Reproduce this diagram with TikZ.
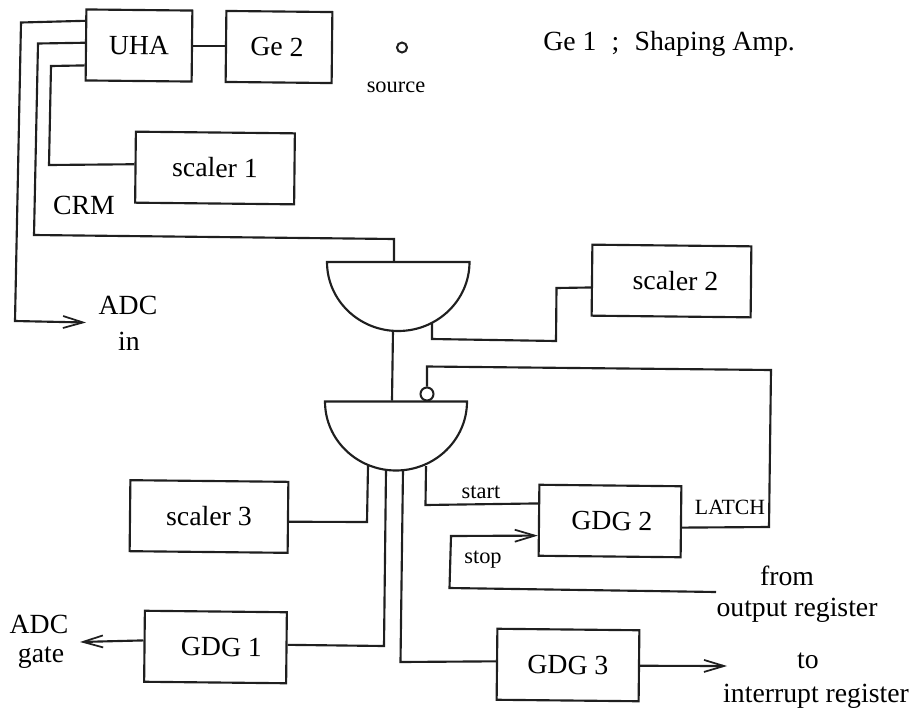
\documentclass[tikz,border=0pt]{standalone}
\usepackage{fontspec}
\setmainfont{Liberation Serif}
\usetikzlibrary{arrows.meta,calc}
\tikzset{
  wire/.style={line width=1.6pt,line join=miter,draw=black!88},
  arrowwire/.style={wire,-{Straight Barb[length=15pt,width=9pt,line width=1.3pt]}},
  unitbox/.style n args={2}{draw=black!88,line width=1.6pt,rotate=-0.6,inner sep=0pt,
    minimum width=#1*0.75pt,minimum height=#2*0.75pt,font=\fontsize{20.8}{22}\selectfont,
    text height=13.6pt,text depth=0pt},
  lab/.style={inner sep=0pt,anchor=base,font=\fontsize{20.8}{22}\selectfont},
  smalllab/.style={inner sep=0pt,anchor=base,font=\fontsize{16.8}{18}\selectfont},
  latchlab/.style={inner sep=0pt,anchor=base,font=\fontsize{16.3}{18}\selectfont},
  smallcirc/.style={circle,draw=black!88,line width=1.5pt,inner sep=0pt,minimum size=#1*0.75pt},
  gateshape/.style={draw=black!88,line width=1.6pt,line join=miter}
}
\begin{document}
\begin{tikzpicture}[x=0.75pt,y=-0.75pt]
\useasboundingbox (0,0) rectangle (914,711);

% units
\node[unitbox={106}{71}] (uha)  at (139,45.5) {UHA};
\node[unitbox={106}{71}] (ge2)  at (279,47)   {\hspace*{-3pt}Ge 2};
\node[unitbox={159}{71}] (sc1)  at (215,168)  {scaler 1};
\node[unitbox={159}{71}] (sc2)  at (671.5,281){\hspace*{6pt}scaler 2};
\node[unitbox={158}{71}] (sc3)  at (209,516.5){scaler 3};
\node[unitbox={142}{71}] (gdg2) at (610,521)  {\hspace*{3pt}GDG 2};
\node[unitbox={142}{71}] (gdg1) at (215.5,647){\hspace*{9pt}GDG 1};
\node[unitbox={142}{71}] (gdg3) at (568,665)  {GDG 3};

% source
\node[smallcirc=10] (src) at (402,47.5) {};

% gates
\coordinate (g1l) at (327,261);
\coordinate (g1r) at (469.5,262);
\coordinate (g2l) at (325,400);
\coordinate (g2r) at (467,401.5);
\draw[gateshape] (g1r) arc[start angle=0,end angle=180,x radius=71.25,y radius=69] -- cycle;
\draw[gateshape] (g2r) arc[start angle=0,end angle=180,x radius=71,y radius=69] -- cycle;
\node[smallcirc=13,fill=white] (bub) at (427,394) {};

% gate ports
\coordinate (g1top) at (394,261);
\coordinate (g1bot) at (393,330);
\coordinate (g1out) at (432,322);
\coordinate (g2top) at (392,400.5);
\coordinate (g2sc3) at (368,466);
\coordinate (g2gd1) at (386,470);
\coordinate (g2gd3) at (403,470);
\coordinate (g2str) at (426,466);

% UHA links
\draw[wire] (uha.east) -- (ge2.west |- uha.east);
\coordinate (a1) at (21,22.5);
\coordinate (a2) at (15,321);
\coordinate (adcTip) at (86,322.5);
\draw[arrowwire] ($(uha.north west)!0.17!(uha.south west)$) -- (a1) -- (a2) -- (adcTip);
\coordinate (b1) at (38,43.5);
\coordinate (b2) at (34,235);
\coordinate (b3) at (394,239);
\draw[wire] ($(uha.north west)!0.47!(uha.south west)$) -- (b1) -- (b2) -- (b3) -- (g1top);
\coordinate (c1) at (51,66);
\coordinate (c2) at (49,165);
\draw[wire] ($(uha.north west)!0.78!(uha.south west)$) -- (c1) -- (c2) -- ($(sc1.north west)!0.46!(sc1.south west)$);

% gate 1 links
\draw[wire] (g1bot) -- (g2top);
\coordinate (d1) at (432,339);
\coordinate (d2) at (556,341);
\coordinate (d3) at (556.5,288);
\draw[wire] (g1out) -- (d1) -- (d2) -- (d3) -- ($(sc2.north west)!0.6!(sc2.south west)$);

% latch feedback
\coordinate (e1) at (427,366.5);
\coordinate (e2) at (771,370);
\coordinate (e3) at (769,527);
\draw[wire] (bub.north) -- (e1) -- (e2) -- (e3) -- ($(gdg2.north east)!0.58!(gdg2.south east)$);

% gate 2 links
\coordinate (f1) at (425.5,505);
\draw[wire] (g2str) -- (f1) -- ($(gdg2.north west)!0.27!(gdg2.south west)$);
\coordinate (h1) at (451,536);
\coordinate (h2) at (449.5,588);
\coordinate (fromEnd) at (716,592);
\draw[arrowwire] (fromEnd) -- (h2) -- (h1) -- ($(gdg2.north west)!0.71!(gdg2.south west)$);
\coordinate (i1) at (367,522);
\draw[wire] (g2sc3) -- (i1) -- ($(sc3.north east)!0.56!(sc3.south east)$);
\coordinate (j1) at (384,646);
\draw[wire] (g2gd1) -- (j1) -- ($(gdg1.north east)!0.46!(gdg1.south east)$);
\coordinate (k1) at (400.5,662);
\draw[wire] (g2gd3) -- (k1) -- ($(gdg3.north west)!0.46!(gdg3.south west)$);

% outputs
\coordinate (adcGateTip) at (80,642);
\draw[arrowwire] ($(gdg1.north west)!0.42!(gdg1.south west)$) -- (adcGateTip);
\coordinate (intTip) at (727,666);
\draw[arrowwire] ($(gdg3.north east)!0.5!(gdg3.south east)$) -- (intTip);

% labels
\node[lab,anchor=base west] (ge1) at (543,50) {Ge 1\hspace{0.55em};\hspace{0.55em}Shaping Amp.};
\node[smalllab] (srclab) at (396,92) {source};
\node[lab] (crm) at (84,214) {CRM};
\node[lab] (adc1) at (128,314) {ADC};
\node[lab] (in) at (129,350) {in};
\node[smalllab] (start) at (481,498) {start};
\node[smalllab] (stop) at (483,563) {stop};
\node[latchlab] (latch) at (730,514) {LATCH};
\node[lab] (from) at (787,585) {from};
\node[lab] (outreg) at (797,616) {output register};
\node[lab] (to) at (808,668) {to};
\node[lab] (intreg) at (816,702) {interrupt register};
\node[lab] (adc2) at (39,633) {ADC};
\node[lab] (gate) at (41,662) {gate};
\end{tikzpicture}
\end{document}
